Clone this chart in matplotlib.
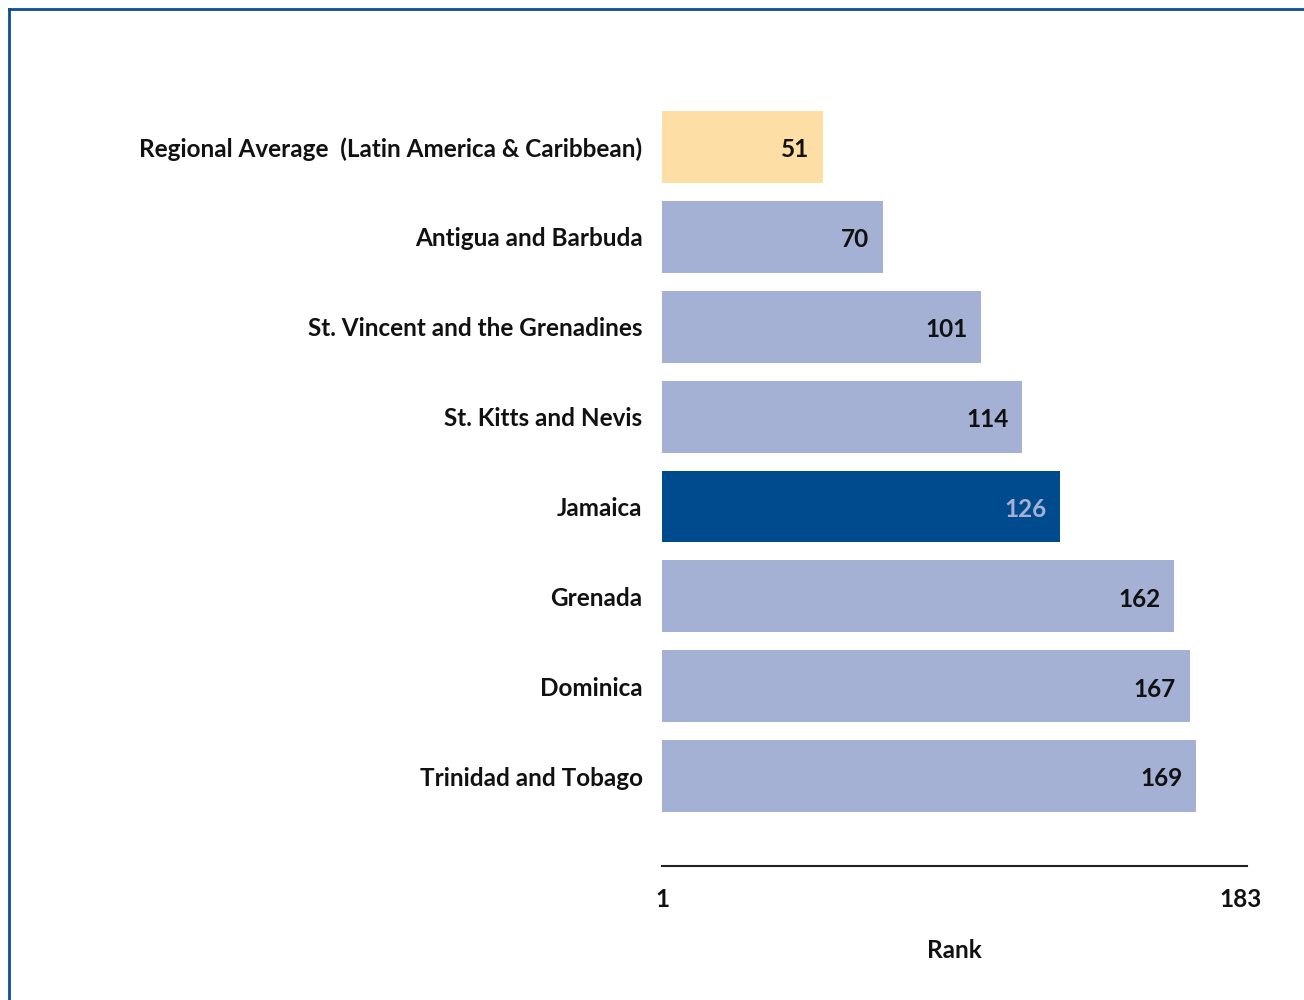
import matplotlib
matplotlib.use("Agg")
import matplotlib.pyplot as plt
from matplotlib.lines import Line2D

# Data
categories = [
    "Regional Average  (Latin America & Caribbean)",
    "Antigua and Barbuda",
    "St. Vincent and the Grenadines",
    "St. Kitts and Nevis",
    "Jamaica",
    "Grenada",
    "Dominica",
    "Trinidad and Tobago",
]
ranks = [51, 70, 101, 114, 126, 162, 167, 169]
tick_values = [0, 183]
tick_labels = ["1", "183"]

REGIONAL = "#fddfa6"
OTHER = "#a5b1d4"
HIGHLIGHT = "#004b8d"
BORDER = "#0f4d93"
INK = "#111111"
FS = 17.5

plt.rcParams["font.family"] = ["Lato", "DejaVu Sans"]
plt.rcParams["font.weight"] = "bold"

fig = plt.figure(figsize=(13.04, 10), dpi=100)
ax = fig.add_axes([0.5077, 0.134, 0.4485, 0.773])

colors = []
for name in categories:
    if name.startswith("Regional"):
        colors.append(REGIONAL)
    elif name == "Jamaica":
        colors.append(HIGHLIGHT)
    else:
        colors.append(OTHER)

ypos = list(range(len(categories)))
ax.barh(ypos, ranks, height=0.8, color=colors, edgecolor="none")

for y, v, c in zip(ypos, ranks, colors):
    tc = OTHER if c == HIGHLIGHT else INK
    ax.annotate(str(v), xy=(v, y), xytext=(-10, -2), textcoords="offset points",
                ha="right", va="center", fontsize=FS, fontweight="bold", color=tc)

ax.set_xlim(0, 185)
ax.set_ylim(8.0, -0.6)
ax.set_yticks(ypos)
ax.set_yticklabels(categories, fontsize=FS, fontweight="bold", color=INK)
ax.set_xticks(tick_values)
ax.set_xticklabels(tick_labels, fontsize=FS, fontweight="bold", color=INK)
ax.tick_params(axis="y", length=0, pad=14)
ax.tick_params(axis="x", length=0, pad=16)
ax.set_xlabel("Rank", fontsize=FS, fontweight="bold", color=INK, labelpad=20)

for side in ("top", "right", "left"):
    ax.spines[side].set_visible(False)
ax.spines["bottom"].set_color("#222222")
ax.spines["bottom"].set_linewidth(1.5)

# frame lines along the top and left edges
fig.add_artist(Line2D([0.007, 1.0], [0.9915, 0.9915], color=BORDER, lw=2, transform=fig.transFigure))
fig.add_artist(Line2D([0.007, 0.007], [0.0, 0.9915], color=BORDER, lw=2, transform=fig.transFigure))

fig.savefig("out.png", dpi=100, facecolor="white")
